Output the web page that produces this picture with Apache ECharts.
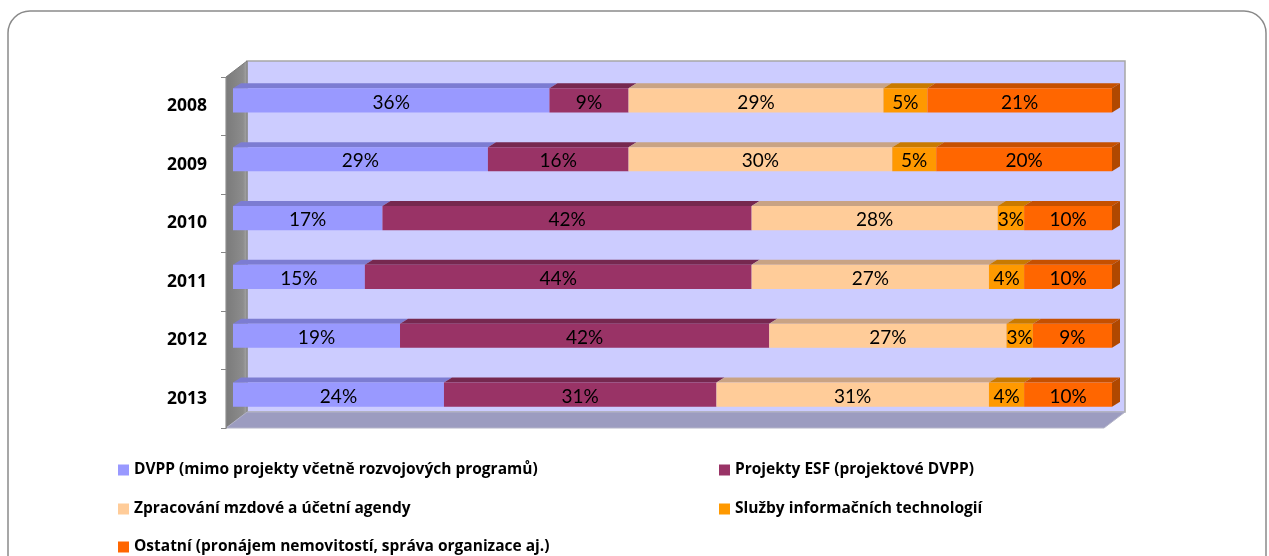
<!DOCTYPE html>
<html>
<head>
<meta charset="utf-8">
<script src="https://cdn.jsdelivr.net/npm/echarts@6/dist/echarts.min.js"></script>
<style>
html,body{margin:0;padding:0;background:#fff;}
#c{width:1269px;height:556px;}
</style>
</head>
<body>
<div id="c"></div>
<script>
const categories = ['2008', '2009', '2010', '2011', '2012', '2013'];
const seriesNames = [
  'DVPP (mimo projekty včetně rozvojových programů)',
  'Projekty ESF (projektové DVPP)',
  'Zpracování mzdové a účetní agendy',
  'Služby informačních technologií',
  'Ostatní (pronájem nemovitostí, správa organizace aj.)'
];
const dvpp    = [36, 29, 17, 15, 19, 24];
const esf     = [9, 16, 42, 44, 42, 31];
const mzdy    = [29, 30, 28, 27, 27, 31];
const it      = [5, 5, 3, 4, 3, 4];
const ostatni = [21, 20, 10, 10, 9, 10];
const valueTicks = [0, 100];

const seriesValues = [dvpp, esf, mzdy, it, ostatni];
const frontColors = ['#9999FF', '#993366', '#FFCC99', '#FF9900', '#FF6600'];
const topColors   = ['#7C7CD2', '#76284F', '#C9A384', '#C97A00', '#C65000'];
const sideColor   = '#B04800';

// geometry of the pseudo-3D frame
const FR = {x0: 226, y0: 77, x1: 1104, y1: 428};
const DEPTH = {dx: 21, dy: -16};
const BAR = {dx: 8, dy: -5};

// legend placement (left, centre y) for each series
const legendPos = [[118, 470], [719, 470], [118, 509], [719, 509], [118, 547]];

// cumulative stacks
const starts = seriesValues.map(() => []);
categories.forEach((c, ci) => {
  let acc = 0;
  seriesValues.forEach((arr, si) => { starts[si][ci] = acc; acc += arr[ci]; });
});

function makeRender(si) {
  return function (params, api) {
    const s = api.value(0), e = api.value(1), cat = api.value(2), v = api.value(3);
    const p0 = api.coord([s, cat]);
    const p1 = api.coord([e, cat]);
    const h = api.size([0, 1])[1] * 0.41;
    const y0 = p0[1] - h / 2, y1 = p0[1] + h / 2;
    const children = [
      {type: 'polygon', shape: {points: [[p0[0], y0], [p1[0], y0], [p1[0] + BAR.dx, y0 + BAR.dy], [p0[0] + BAR.dx, y0 + BAR.dy]]},
       style: {fill: topColors[si]}},
      {type: 'rect', shape: {x: p0[0], y: y0, width: p1[0] - p0[0], height: h}, style: {fill: frontColors[si]}}
    ];
    if (si === seriesValues.length - 1) {
      children.push({type: 'polygon', shape: {points: [[p1[0], y0], [p1[0] + BAR.dx, y0 + BAR.dy], [p1[0] + BAR.dx, y1 + BAR.dy], [p1[0], y1]]},
        style: {fill: sideColor}});
    }
    children.push({type: 'text', z2: 10, style: {text: v + '%', x: (p0[0] + p1[0]) / 2, y: p0[1] + 2,
      align: 'center', verticalAlign: 'middle', fill: '#000', fontSize: 19, fontFamily: 'Lato'}});
    return {type: 'group', children: children};
  };
}

const series = seriesValues.map((arr, si) => ({
  type: 'custom',
  name: seriesNames[si],
  xAxisIndex: 0, yAxisIndex: 0,
  itemStyle: {color: frontColors[si]},
  renderItem: makeRender(si),
  encode: {x: [0, 1], y: 2},
  data: arr.map((v, ci) => [starts[si][ci], starts[si][ci] + v, ci, v]),
  z: 3
}));

const legendText = {fontFamily: 'Open Sans', fontWeight: 'bold', fontSize: 15.5, color: '#000', lineHeight: 18};
const legends = seriesNames.map((n, i) => ({
  data: [n], orient: 'horizontal', left: legendPos[i][0], top: legendPos[i][1] - 9,
  itemWidth: 11, itemHeight: 11, icon: 'rect', selectedMode: false, padding: 0, textStyle: legendText
}));

const chart = echarts.init(document.getElementById('c'));
chart.setOption({
  animation: false,
  backgroundColor: '#fff',
  grid: [
    {left: 233, top: 71, width: 879, height: 353},
    {left: FR.x0, top: FR.y0, width: FR.x1 - FR.x0, height: FR.y1 - FR.y0}
  ],
  xAxis: [
    {type: 'value', gridIndex: 0, min: valueTicks[0], max: valueTicks[1], show: false},
    {type: 'value', gridIndex: 1, min: valueTicks[0], max: valueTicks[1], show: false}
  ],
  yAxis: [
    {type: 'category', gridIndex: 0, data: categories, inverse: true, show: false},
    {type: 'category', gridIndex: 1, data: categories, inverse: true, z: 5,
     axisLine: {show: true, lineStyle: {color: '#868686', width: 1}},
     axisTick: {show: true, length: 5, lineStyle: {color: '#868686'}},
     axisLabel: {margin: 19, color: '#000', fontFamily: 'Open Sans', fontWeight: 'bold', fontSize: 17.5}}
  ],
  legend: legends,
  graphic: [
    {type: 'rect', z: 0, shape: {x: 8, y: 11, width: 1258, height: 620, r: 22},
     style: {fill: 'none', stroke: '#8A8A8A', lineWidth: 1.5}},
    // back wall
    {type: 'rect', z: 1, shape: {x: FR.x0 + DEPTH.dx, y: FR.y0 + DEPTH.dy, width: FR.x1 - FR.x0, height: FR.y1 - FR.y0},
     style: {fill: '#CCCCFF', stroke: '#A6A6A6', lineWidth: 1.5}},
    // left wall
    {type: 'polygon', z: 1, shape: {points: [[FR.x0, FR.y0], [FR.x0 + DEPTH.dx, FR.y0 + DEPTH.dy], [FR.x0 + DEPTH.dx, FR.y1 + DEPTH.dy], [FR.x0, FR.y1]]},
     style: {fill: new echarts.graphic.LinearGradient(0, 0, 1, 0, [{offset: 0, color: '#7A7A7A'}, {offset: 0.8, color: '#8C8C8C'}, {offset: 1, color: '#A8A8A8'}]),
             stroke: '#7A7A7A', lineWidth: 1}},
    // floor
    {type: 'polygon', z: 1, shape: {points: [[FR.x0, FR.y1], [FR.x0 + DEPTH.dx, FR.y1 + DEPTH.dy], [FR.x1 + DEPTH.dx, FR.y1 + DEPTH.dy], [FR.x1, FR.y1]]},
     style: {fill: '#9C9CC0', stroke: '#B4B4C8', lineWidth: 1}}
  ],
  series: series
});
</script>
</body>
</html>
